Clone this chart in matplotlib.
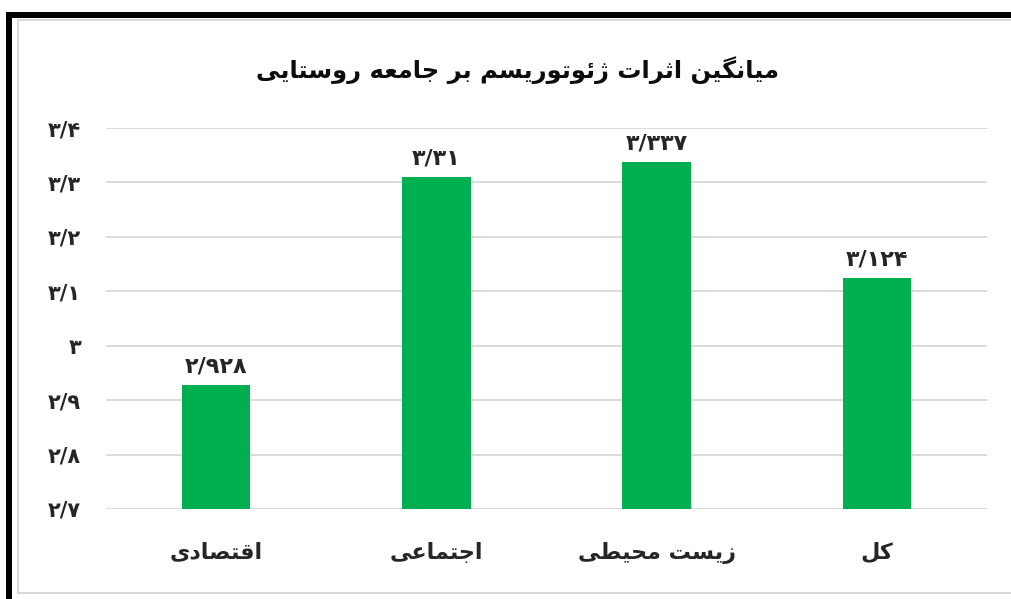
import matplotlib
matplotlib.use("Agg")
import matplotlib.pyplot as plt
from matplotlib.patches import Rectangle
from matplotlib.lines import Line2D

# ---------------- data ----------------
categories = ["اقتصادی", "اجتماعی", "زیست محیطی", "کل"]
values = [2.928, 3.31, 3.337, 3.124]
value_labels = ["2/928", "3/31", "3/337", "3/124"]
yticks = [2.7, 2.8, 2.9, 3.0, 3.1, 3.2, 3.3, 3.4]
ytick_labels = ["2/7", "2/8", "2/9", "3", "3/1", "3/2", "3/3", "3/4"]
title = "میانگین اثرات ژئوتوریسم بر جامعه روستایی"

# ---------------- simple Arabic/Persian shaping ----------------
FORMS = {  # iso, fin, ini, med
    'ا': ('\uFE8D', '\uFE8E', None, None),
    'ب': ('\uFE8F', '\uFE90', '\uFE91', '\uFE92'),
    'ت': ('\uFE95', '\uFE96', '\uFE97', '\uFE98'),
    'ث': ('\uFE99', '\uFE9A', '\uFE9B', '\uFE9C'),
    'ج': ('\uFE9D', '\uFE9E', '\uFE9F', '\uFEA0'),
    'ح': ('\uFEA1', '\uFEA2', '\uFEA3', '\uFEA4'),
    'د': ('\uFEA9', '\uFEAA', None, None),
    'ر': ('\uFEAD', '\uFEAE', None, None),
    'ز': ('\uFEAF', '\uFEB0', None, None),
    'ژ': ('\uFB8A', '\uFB8B', None, None),
    'س': ('\uFEB1', '\uFEB2', '\uFEB3', '\uFEB4'),
    'ص': ('\uFEB9', '\uFEBA', '\uFEBB', '\uFEBC'),
    'ط': ('\uFEC1', '\uFEC2', '\uFEC3', '\uFEC4'),
    'ع': ('\uFEC9', '\uFECA', '\uFECB', '\uFECC'),
    'ق': ('\uFED5', '\uFED6', '\uFED7', '\uFED8'),
    'ل': ('\uFEDD', '\uFEDE', '\uFEDF', '\uFEE0'),
    'م': ('\uFEE1', '\uFEE2', '\uFEE3', '\uFEE4'),
    'ن': ('\uFEE5', '\uFEE6', '\uFEE7', '\uFEE8'),
    'ه': ('\uFEE9', '\uFEEA', '\uFEEB', '\uFEEC'),
    'و': ('\uFEED', '\uFEEE', None, None),
    'ئ': ('\uFE89', '\uFE8A', '\uFE8B', '\uFE8C'),
    'ی': ('\uFBFC', '\uFBFD', '\uFBFE', '\uFBFF'),
    'ک': ('\uFB8E', '\uFB8F', '\uFB90', '\uFB91'),
    'گ': ('\uFB92', '\uFB93', '\uFB94', '\uFB95'),
}


def dual(c):
    return c in FORMS and FORMS[c][2] is not None


def shape(s):
    out = []
    for i, c in enumerate(s):
        if c not in FORMS:
            out.append(c)
            continue
        prev = s[i - 1] if i > 0 else ''
        nxt = s[i + 1] if i + 1 < len(s) else ''
        jp = dual(prev)
        jn = dual(c) and nxt in FORMS
        iso, fin, ini, med = FORMS[c]
        if jp and jn:
            out.append(med)
        elif jp:
            out.append(fin)
        elif jn:
            out.append(ini)
        else:
            out.append(iso)
    return ''.join(reversed(out))


PDIG = str.maketrans("0123456789", "۰۱۲۳۴۵۶۷۸۹")


def pnum(s):
    return s.translate(PDIG)


plt.rcParams['font.family'] = ['DejaVu Sans']

W, H = 1012, 599
fig = plt.figure(figsize=(W / 100, H / 100), dpi=100)
fig.patch.set_facecolor('white')


def fx(x):
    return x / W


def fy(y):
    return 1 - y / H

# light gray inner frame
fig.add_artist(Line2D([fx(18), fx(1012)], [fy(19.5), fy(19.5)], color='#d9d9d9', lw=1.5))
fig.add_artist(Line2D([fx(18), fx(18)], [fy(19.5), fy(593)], color='#d9d9d9', lw=1.5))
fig.add_artist(Line2D([fx(18), fx(1012)], [fy(593), fy(593)], color='#d9d9d9', lw=1.5))
# black thick border (top & left)
fig.add_artist(Rectangle((fx(6), fy(17.5)), fx(1012) - fx(6), (17.5 - 11.5) / H,
                         transform=fig.transFigure, color='black', lw=0))
fig.add_artist(Rectangle((fx(6), fy(599)), fx(12.5) - fx(6), (599 - 11.5) / H,
                         transform=fig.transFigure, color='black', lw=0))

ax = fig.add_axes([fx(106), fy(509), fx(987) - fx(106), fy(128) - fy(509)])
x = list(range(len(categories)))
bars = ax.bar(x, values, width=0.31, color='#00B050', zorder=3)
ax.set_xlim(-0.5, len(categories) - 0.5)
ax.set_ylim(2.7, 3.4)
ax.set_yticks(yticks)
ax.set_yticklabels([pnum(t) for t in ytick_labels], fontsize=15, fontweight='bold', color='#262626')
ax.set_xticks(x)
ax.set_xticklabels([shape(c) for c in categories], fontsize=16, fontweight='bold', color='#262626')
ax.tick_params(axis='both', length=0)
ax.tick_params(axis='y', pad=18)
ax.tick_params(axis='x', pad=24)
ax.grid(axis='y', color='#d9d9d9', lw=1.3, zorder=0)
for sp in ax.spines.values():
    sp.set_visible(False)

for b, lab in zip(bars, value_labels):
    ax.annotate(pnum(lab), (b.get_x() + b.get_width() / 2, b.get_height()),
                xytext=(0, 6), textcoords='offset points', ha='center', va='bottom',
                fontsize=16, fontweight='bold', color='#262626')

fig.text(fx(518), fy(70), shape(title), ha='center', va='center',
         fontsize=17.4, fontweight='bold', color='#0d0d0d')

fig.savefig('out.png', dpi=100)
